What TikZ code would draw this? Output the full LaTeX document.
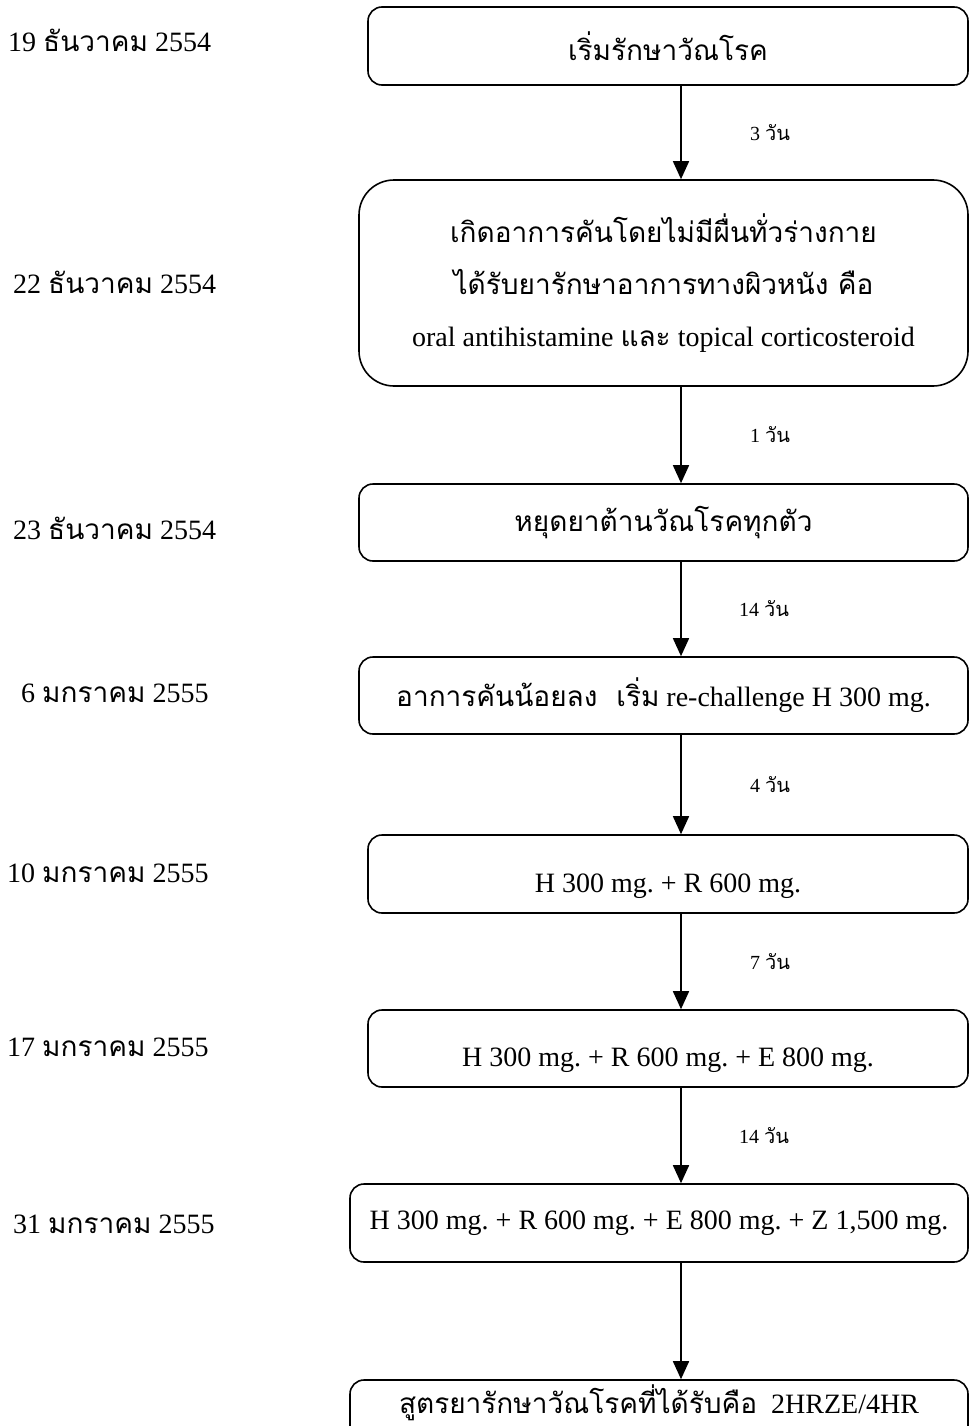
\documentclass[tikz,border=0pt]{standalone}
\usepackage{fontspec}
\setmainfont{Liberation Serif}
\newfontfamily\thaifont[Script=Thai]{Loma}
\newcommand\thx[1]{{\thaifont #1}}
\usetikzlibrary{arrows.meta}
\frenchspacing
\begin{document}
\begin{tikzpicture}[x=1pt,y=-1pt,
  stage/.style={draw, line width=1.6pt, rounded corners=14pt, minimum height=78pt,
    inner sep=0pt, align=center, font=\fontsize{28}{34}\selectfont},
  datelabel/.style={anchor=west, inner sep=0pt, font=\fontsize{28}{34}\selectfont},
  gap/.style={font=\fontsize{20}{24}\selectfont, inner sep=0pt},
  flow/.style={line width=1.6pt, -{Triangle[width=16pt,length=18pt]}}
]
\useasboundingbox (0,0) rectangle (969,1426);
\clip (0,0) rectangle (969,1426);

% column of the connectors
\coordinate (ax) at (681,0);

% treatment stages
\node[stage, minimum width=600pt] (b1) at (668,46) {\thx{เริ่มรักษาวัณโรค}};
\node[stage, rounded corners=35pt, minimum width=609pt, minimum height=206pt,
  font=\fontsize{28}{52}\selectfont] (b2) at (663.5,283)
  {\thx{เกิดอาการคันโดยไม่มีผื่นทั่วร่างกาย}\\
   \thx{ได้รับยารักษาอาการทางผิวหนัง คือ}\\
   oral antihistamine \thx{และ} topical corticosteroid};
\node[stage, minimum width=609pt, minimum height=77pt] (b3) at (663.5,522.5)
  {\thx{หยุดยาต้านวัณโรคทุกตัว}};
\node[stage, minimum width=609pt, minimum height=77pt] (b4) at (663.5,695.5)
  {\thx{อาการคันน้อยลง\ \ เริ่ม} re-challenge H 300 mg.};
% these two boxes carry their text a little below the middle
\node[stage, minimum width=600pt, minimum height=0pt, text height=57pt, text depth=21pt,
  anchor=base] (b5) at (668,892) {H 300 mg. + R 600 mg.};
\node[stage, minimum width=600pt, minimum height=0pt, text height=56pt, text depth=21pt,
  anchor=base] (b6) at (668,1066) {H 300 mg. + R 600 mg. + E 800 mg.};
\node[stage, minimum width=618pt] (b7) at (659,1223)
  {H 300 mg. + R 600 mg. + E 800 mg. + Z 1,500 mg.};
\node[stage, minimum width=618pt, text height=33pt, text depth=60pt, anchor=base]
  (b8) at (659,1413) {\thx{สูตรยารักษาวัณโรคที่ได้รับคือ}\ \ 2HRZE/4HR};

% dates
\node[datelabel] (d1) at (8,40) {19 \thx{ธันวาคม} 2554};
\node[datelabel] (d2) at (13,282) {22 \thx{ธันวาคม} 2554};
\node[datelabel] (d3) at (13,528) {23 \thx{ธันวาคม} 2554};
\node[datelabel] (d4) at (21,693) {6 \thx{มกราคม} 2555};
\node[datelabel] (d5) at (7,873) {10 \thx{มกราคม} 2555};
\node[datelabel] (d6) at (7,1047) {17 \thx{มกราคม} 2555};
\node[datelabel] (d7) at (13,1224) {31 \thx{มกราคม} 2555};

% connectors with the interval in days
\draw[flow] (b1.south -| ax) -- node[gap, xshift=89pt] {3 \thx{วัน}} (b2.north -| ax);
\draw[flow] (b2.south -| ax) -- node[gap, xshift=89pt] {1 \thx{วัน}} (b3.north -| ax);
\draw[flow] (b3.south -| ax) -- node[gap, xshift=83pt] {14 \thx{วัน}} (b4.north -| ax);
\draw[flow] (b4.south -| ax) -- node[gap, xshift=89pt] {4 \thx{วัน}} (b5.north -| ax);
\draw[flow] (b5.south -| ax) -- node[gap, xshift=89pt] {7 \thx{วัน}} (b6.north -| ax);
\draw[flow] (b6.south -| ax) -- node[gap, xshift=83pt] {14 \thx{วัน}} (b7.north -| ax);
\draw[flow] (b7.south -| ax) -- (b8.north -| ax);
\end{tikzpicture}
\end{document}
